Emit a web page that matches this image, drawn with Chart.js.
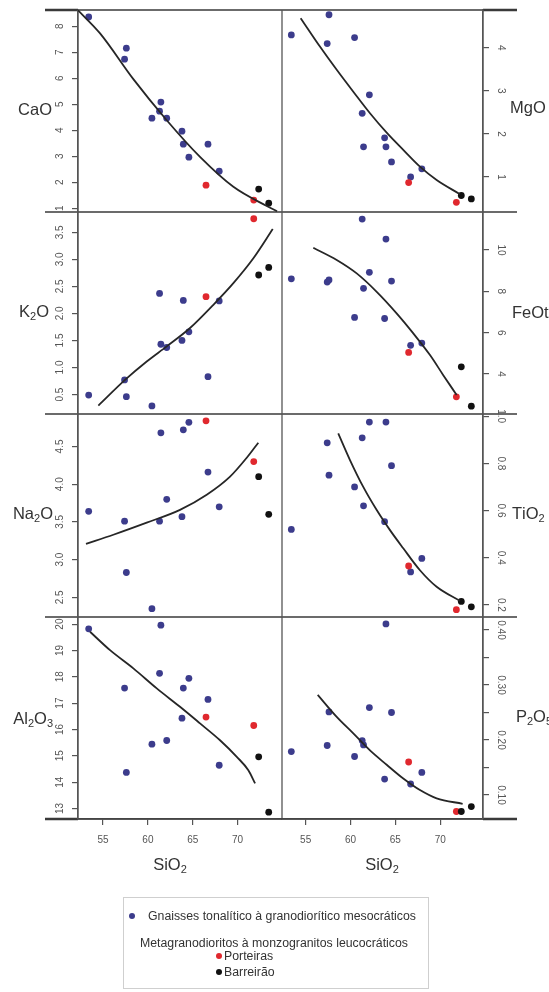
<!DOCTYPE html>
<html><head><meta charset="utf-8">
<script src="https://cdn.jsdelivr.net/npm/chart.js@4.4.1/dist/chart.umd.min.js"></script>
<style>
html,body{margin:0;padding:0;background:#fff;}
#wrap{position:relative;width:549px;height:992px;overflow:hidden;background:#fff;}
#wrap canvas{position:absolute;left:0;top:0;}
#legend{position:absolute;left:123px;top:897px;width:304px;height:90px;border:1px solid #cfcfcf;font-family:'Liberation Sans',Arial,sans-serif;font-size:12.3px;color:#333;}
#legend div{position:absolute;white-space:nowrap;line-height:14px;}
#legend span.dot{position:absolute;width:6px;height:6px;border-radius:50%;}
</style></head>
<body><div id="wrap">
<div id="legend">
  <span class="dot" style="left:5px;top:15px;background:#3c3c8c"></span>
  <div style="left:24px;top:11px">Gnaisses tonalítico à granodiorítico mesocráticos</div>
  <div style="left:16px;top:38px">Metagranodioritos à monzogranitos leucocráticos</div>
  <span class="dot" style="left:92px;top:55px;background:#e0282e"></span>
  <div style="left:100px;top:51px">Porteiras</div>
  <span class="dot" style="left:92px;top:71px;background:#111"></span>
  <div style="left:100px;top:67px">Barreirão</div>
</div>
</div>
<script>
// ---------- DATA ----------
const SIO2_GNAISSES = [53.4, 57.4, 57.6, 60.45, 61.3, 61.45, 62.1, 63.8, 63.95, 64.57, 66.7, 67.95];
const SIO2_PORTEIRAS = [66.48, 71.8];
const SIO2_BARREIRAO = [72.35, 73.47];

const CaO_gnaisses = [8.35, 6.73, 7.15, 4.46, 4.73, 5.08, 4.46, 3.96, 3.46, 2.96, 3.46, 2.42];
const CaO_porteiras = [1.88, 1.31];
const CaO_barreirao = [1.73, 1.19];
const MgO_gnaisses = [4.3, 4.1, 4.77, 4.24, 2.48, 1.70, 2.91, 1.91, 1.70, 1.35, 1.0, 1.19];
const MgO_porteiras = [0.87, 0.41];
const MgO_barreirao = [0.57, 0.49];
const K2O_gnaisses = [0.49, 0.77, 0.46, 0.29, 2.37, 1.43, 1.37, 1.50, 2.24, 1.66, 0.83, 2.23];
const K2O_porteiras = [2.31, 3.75];
const K2O_barreirao = [2.71, 2.85];
const FeOt_gnaisses = [8.61, 8.45, 8.55, 6.74, 11.5, 8.15, 8.92, 6.69, 10.53, 8.5, 5.39, 5.5];
const FeOt_porteiras = [5.05, 2.9];
const FeOt_barreirao = [4.35, 2.45];
const Na2O_gnaisses = [3.64, 3.51, 2.83, 2.35, 3.51, 4.68, 3.80, 3.57, 4.72, 4.82, 4.16, 3.70];
const Na2O_porteiras = [4.84, 4.30];
const Na2O_barreirao = [4.10, 3.60];
const TiO2_gnaisses = [0.52, 0.887, 0.75, 0.70, 0.908, 0.62, 0.975, 0.553, 0.975, 0.79, 0.34, 0.397];
const TiO2_porteiras = [0.365, 0.18];
const TiO2_barreirao = [0.215, 0.192];
const Al2O3_gnaisses = [19.82, 17.57, 14.37, 15.44, 18.13, 19.96, 15.58, 16.43, 17.57, 17.94, 17.14, 14.64];
const Al2O3_porteiras = [16.47, 16.15];
const Al2O3_barreirao = [14.96, 12.86];
const P2O5_gnaisses = [0.179, 0.19, 0.251, 0.170, 0.199, 0.191, 0.259, 0.129, 0.411, 0.250, 0.120, 0.141];
const P2O5_porteiras = [0.160, 0.070];
const P2O5_barreirao = [0.070, 0.079];

// fitted trend curves
const CaO_fit_x = [52.18, 54.67, 58.38, 62.10, 65.81, 69.53, 73.25, 74.4];
const CaO_fit_y = [8.62, 7.72, 5.96, 4.38, 2.97, 1.82, 1.08, 0.88];
const MgO_fit_x = [54.44, 56.59, 58.46, 60.31, 62.17, 64.03, 65.88, 67.74, 69.60, 72.20];
const MgO_fit_y = [4.69, 4.03, 3.49, 2.98, 2.48, 2.03, 1.63, 1.24, 0.93, 0.60];
const K2O_fit_x = [54.48, 57.45, 59.87, 62.10, 64.70, 67.30, 69.53, 71.76, 73.92];
const K2O_fit_y = [0.295, 0.77, 1.11, 1.39, 1.73, 2.16, 2.56, 3.02, 3.56];
const FeOt_fit_x = [55.85, 58.46, 60.69, 62.92, 65.14, 67.00, 68.86, 70.34, 71.83];
const FeOt_fit_y = [10.11, 9.52, 8.87, 7.98, 6.94, 5.97, 4.92, 3.95, 2.99];
const Na2O_fit_x = [53.10, 56.15, 59.87, 63.58, 66.56, 69.16, 71.02, 72.31];
const Na2O_fit_y = [3.21, 3.33, 3.49, 3.66, 3.86, 4.10, 4.35, 4.55];
const TiO2_fit_x = [58.63, 59.94, 61.42, 62.92, 64.40, 65.88, 67.74, 69.60, 72.20];
const TiO2_fit_y = [0.927, 0.814, 0.70, 0.602, 0.517, 0.44, 0.347, 0.277, 0.217];
const Al2O3_fit_x = [53.55, 55.78, 58.38, 60.99, 63.58, 65.81, 68.04, 69.91, 71.20, 71.95];
const Al2O3_fit_y = [19.71, 19.01, 18.32, 17.56, 16.86, 16.23, 15.59, 14.96, 14.45, 13.95];
const P2O5_fit_x = [56.34, 58.46, 60.31, 62.17, 64.03, 65.88, 67.74, 69.60, 72.50];
const P2O5_fit_y = [0.282, 0.242, 0.212, 0.181, 0.155, 0.130, 0.109, 0.094, 0.084];

// tick values and labels
const X_TICKS = [55, 60, 65, 70];
const X_TICK_LABELS = ['55', '60', '65', '70'];
const CaO_ticks = [1, 2, 3, 4, 5, 6, 7, 8];
const CaO_tick_labels = ['1', '2', '3', '4', '5', '6', '7', '8'];
const MgO_ticks = [1, 2, 3, 4];
const MgO_tick_labels = ['1', '2', '3', '4'];
const K2O_ticks = [0.5, 1.0, 1.5, 2.0, 2.5, 3.0, 3.5];
const K2O_tick_labels = ['0.5', '1.0', '1.5', '2.0', '2.5', '3.0', '3.5'];
const FeOt_ticks = [4, 6, 8, 10];
const FeOt_tick_labels = ['4', '6', '8', '10'];
const Na2O_ticks = [2.5, 3.0, 3.5, 4.0, 4.5];
const Na2O_tick_labels = ['2.5', '3.0', '3.5', '4.0', '4.5'];
const TiO2_ticks = [0.2, 0.4, 0.6, 0.8, 1.0];
const TiO2_tick_labels = ['0.2', '0.4', '0.6', '0.8', '1.0'];
const Al2O3_ticks = [13, 14, 15, 16, 17, 18, 19, 20];
const Al2O3_tick_labels = ['13', '14', '15', '16', '17', '18', '19', '20'];
const P2O5_ticks = [0.10, 0.15, 0.20, 0.25, 0.30, 0.35, 0.40];
const P2O5_tick_labels = ['0.10', '', '0.20', '', '0.30', '', '0.40'];

const OXIDE_NAMES = ['CaO', 'MgO', 'K2O', 'FeOt', 'Na2O', 'TiO2', 'Al2O3', 'P2O5'];
const X_TITLE = 'SiO2';

// ---------- LAYOUT ----------
const W = 549, H = 992;
const FAMILY = "'Liberation Sans', Arial, Helvetica, sans-serif";
const COLS = {L: {left: 78, right: 282, min: 52.21, max: 74.95}, R: {left: 282, right: 483, min: 52.36, max: 74.77}};
const ROWS = [[10, 212], [212, 414], [414, 617], [617, 819]];
const AXW = 40, XAXH = 40, TL = 6;
const C_BLUE = '#3c3c8c', C_RED = '#e0282e', C_BLACK = '#111';
// anchor (x, y) of each oxide name: left column right-aligned, right column left-aligned
const NAME_POS = [[52, 110], [510, 108], [49, 312], [512, 313], [53, 514], [512, 514], [53, 719], [516, 717]];

const panels = [
  {name: 'CaO', col: 'L', row: 0, g: CaO_gnaisses, p: CaO_porteiras, b: CaO_barreirao, fx: CaO_fit_x, fy: CaO_fit_y, ticks: CaO_ticks, labels: CaO_tick_labels, min: 0.85, max: 8.62},
  {name: 'MgO', col: 'R', row: 0, g: MgO_gnaisses, p: MgO_porteiras, b: MgO_barreirao, fx: MgO_fit_x, fy: MgO_fit_y, ticks: MgO_ticks, labels: MgO_tick_labels, min: 0.186, max: 4.88},
  {name: 'K2O', col: 'L', row: 1, g: K2O_gnaisses, p: K2O_porteiras, b: K2O_barreirao, fx: K2O_fit_x, fy: K2O_fit_y, ticks: K2O_ticks, labels: K2O_tick_labels, min: 0.14, max: 3.875},
  {name: 'FeOt', col: 'R', row: 1, g: FeOt_gnaisses, p: FeOt_porteiras, b: FeOt_barreirao, fx: FeOt_fit_x, fy: FeOt_fit_y, ticks: FeOt_ticks, labels: FeOt_tick_labels, min: 2.07, max: 11.84},
  {name: 'Na2O', col: 'L', row: 2, g: Na2O_gnaisses, p: Na2O_porteiras, b: Na2O_barreirao, fx: Na2O_fit_x, fy: Na2O_fit_y, ticks: Na2O_ticks, labels: Na2O_tick_labels, min: 2.24, max: 4.93},
  {name: 'TiO2', col: 'R', row: 2, g: TiO2_gnaisses, p: TiO2_porteiras, b: TiO2_barreirao, fx: TiO2_fit_x, fy: TiO2_fit_y, ticks: TiO2_ticks, labels: TiO2_tick_labels, min: 0.149, max: 1.009},
  {name: 'Al2O3', col: 'L', row: 3, g: Al2O3_gnaisses, p: Al2O3_porteiras, b: Al2O3_barreirao, fx: Al2O3_fit_x, fy: Al2O3_fit_y, ticks: Al2O3_ticks, labels: Al2O3_tick_labels, min: 12.6, max: 20.27},
  {name: 'P2O5', col: 'R', row: 3, g: P2O5_gnaisses, p: P2O5_porteiras, b: P2O5_barreirao, fx: P2O5_fit_x, fy: P2O5_fit_y, ticks: P2O5_ticks, labels: P2O5_tick_labels, min: 0.0564, max: 0.4236}
];

const TICK_FONT = {family: FAMILY, size: 10};
const measureCtx = document.createElement('canvas').getContext('2d');
function widest(labels) {
  measureCtx.font = `10px ${FAMILY}`;
  return Math.max(...labels.map(l => measureCtx.measureText(l).width));
}

function drawFormula(ctx, text, x, y, size, align) {
  const parts = text.split('').map(c => [c, /[0-9]/.test(c)]);
  const big = `${size}px ${FAMILY}`, small = `${Math.round(size * 0.68)}px ${FAMILY}`;
  let total = 0;
  parts.forEach(([t, s]) => { ctx.font = s ? small : big; total += ctx.measureText(t).width; });
  let cx = align === 'right' ? x - total : align === 'center' ? x - total / 2 : x;
  ctx.textAlign = 'left'; ctx.textBaseline = 'middle';
  parts.forEach(([t, s]) => { ctx.font = s ? small : big; ctx.fillText(t, cx, s ? y + size * 0.32 : y); cx += ctx.measureText(t).width; });
}

const framePlugin = {
  id: 'frame',
  beforeDatasetsDraw(chart) {
    const ctx = chart.ctx;
    ctx.save();
    ctx.strokeStyle = '#3a3a3a';
    ctx.lineCap = 'butt';
    ROWS.map(r => r[0]).concat([819]).forEach((y, i, arr) => {
      ctx.lineWidth = 1.5;
      ctx.beginPath(); ctx.moveTo(78, y); ctx.lineTo(483, y); ctx.stroke();
      ctx.lineWidth = (i === 0 || i === arr.length - 1) ? 2.6 : 1.6;
      ctx.beginPath(); ctx.moveTo(45, y); ctx.lineTo(78, y); ctx.stroke();
      ctx.beginPath(); ctx.moveTo(483, y); ctx.lineTo(517, y); ctx.stroke();
    });
    ctx.strokeStyle = '#555';
    ctx.lineWidth = 1.3;
    [78, 282, 483].forEach(x => { ctx.beginPath(); ctx.moveTo(x, 10); ctx.lineTo(x, 819); ctx.stroke(); });
    ctx.restore();
  },
  afterDraw(chart) {
    const ctx = chart.ctx;
    ctx.save();
    ctx.fillStyle = '#333';
    panels.forEach((p, i) => {
      const [x, y] = NAME_POS[i];
      drawFormula(ctx, OXIDE_NAMES[i], x, y, 16.5, p.col === 'L' ? 'right' : 'left');
    });
    drawFormula(ctx, X_TITLE, 170, 865, 16.5, 'center');
    drawFormula(ctx, X_TITLE, 382, 865, 16.5, 'center');
    ctx.restore();
  }
};

const wrap = document.getElementById('wrap');
panels.forEach((p, idx) => {
  const cv = document.createElement('canvas');
  cv.width = W; cv.height = H;
  cv.style.width = W + 'px'; cv.style.height = H + 'px';
  wrap.insertBefore(cv, document.getElementById('legend'));
  const col = COLS[p.col];
  const [top, bottom] = ROWS[p.row];
  const isBottom = p.row === 3;
  const padding = p.col === 'L'
    ? {left: col.left - AXW, right: W - col.right, top: top, bottom: H - bottom - (isBottom ? XAXH : 0)}
    : {left: col.left, right: W - col.right - AXW, top: top, bottom: H - bottom - (isBottom ? XAXH : 0)};
  const lblPad = 12 - widest(p.labels) / 2;
  const pts = (xs, ys) => xs.map((x, i) => ({x: x, y: ys[i]}));
  new Chart(cv, {
    type: 'scatter',
    data: {
      datasets: [
        {label: 'fit', data: pts(p.fx, p.fy), showLine: true, borderColor: '#262626', borderWidth: 1.8, pointRadius: 0, cubicInterpolationMode: 'monotone', fill: false},
        {label: 'Barreirão', data: pts(SIO2_BARREIRAO, p.b), backgroundColor: C_BLACK, pointRadius: 3.4, borderWidth: 0},
        {label: 'Porteiras', data: pts(SIO2_PORTEIRAS, p.p), backgroundColor: C_RED, pointRadius: 3.4, borderWidth: 0},
        {label: 'Gnaisses tonalítico à granodiorítico mesocráticos', data: pts(SIO2_GNAISSES, p.g), backgroundColor: C_BLUE, pointRadius: 3.4, borderWidth: 0}
      ]
    },
    options: {
      responsive: false, animation: false, devicePixelRatio: 1,
      layout: {padding: padding},
      plugins: {legend: {display: false}, tooltip: {enabled: false}},
      scales: {
        x: {
          type: 'linear', position: 'bottom', min: col.min, max: col.max, display: isBottom,
          afterBuildTicks: s => { s.ticks = X_TICKS.map(v => ({value: v})); },
          afterFit: s => { s.height = isBottom ? XAXH : 0; s.paddingLeft = 0; s.paddingRight = 0; },
          ticks: {font: TICK_FONT, color: '#555', padding: 9, autoSkip: false, maxRotation: 0, minRotation: 0,
                  callback: (v, i) => X_TICK_LABELS[i]},
          grid: {drawOnChartArea: false, drawTicks: true, tickLength: TL, color: '#555', lineWidth: 1.2},
          border: {display: true, color: '#444', width: 1.4}
        },
        y: {
          type: 'linear', position: p.col === 'L' ? 'left' : 'right', min: p.min, max: p.max,
          afterBuildTicks: s => { s.ticks = p.ticks.map(v => ({value: v})); },
          afterFit: s => { s.width = AXW; s.paddingTop = 0; s.paddingBottom = 0; },
          ticks: {font: TICK_FONT, color: '#555', padding: lblPad, autoSkip: false, crossAlign: 'center',
                  minRotation: p.col === 'L' ? 90 : -90, maxRotation: 90,
                  callback: (v, i) => p.labels[i]},
          grid: {drawOnChartArea: false, drawTicks: true, tickLength: TL, color: '#555', lineWidth: 1.2},
          border: {display: true, color: '#555', width: 1.3}
        }
      }
    },
    plugins: idx === 0 ? [framePlugin] : []
  });
});
</script>
</body></html>
